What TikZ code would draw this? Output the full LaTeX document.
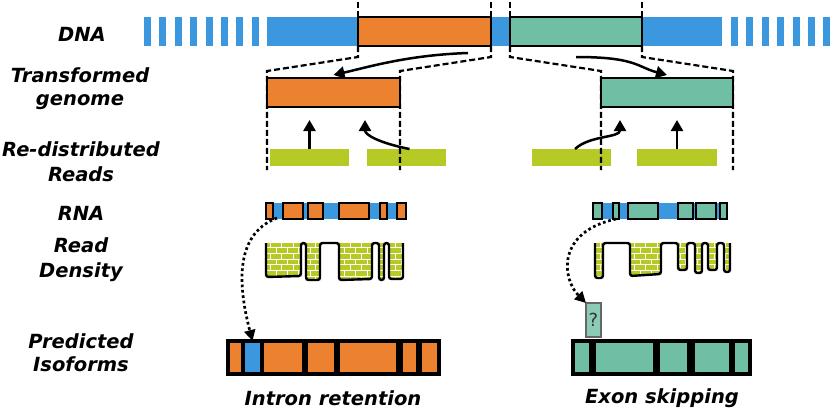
\documentclass[tikz,border=0pt]{standalone}
\usepackage{fontspec}
\setmainfont{DejaVu Sans}
\usetikzlibrary{arrows.meta,patterns}
\definecolor{dnablue}{RGB}{60,152,222}
\definecolor{exorange}{RGB}{236,130,48}
\definecolor{exteal}{RGB}{112,191,164}
\definecolor{qteal}{RGB}{140,204,182}
\definecolor{readlime}{RGB}{182,201,36}

\begin{document}
\begin{tikzpicture}[
  x=1pt, y=-1pt,
  every node/.style = {inner sep=0pt, outer sep=0pt, anchor=north west},
  lbl/.style = {anchor=center, align=center, font=\fontsize{19.5}{24}\selectfont\bfseries\itshape},
  dnaseg/.style = {fill=dnablue, minimum height=29pt},
  bigbox/.style = {draw, line width=2.3pt, minimum height=29pt},
  readbar/.style = {fill=readlime, minimum height=17pt},
  rnaseg/.style = {fill=dnablue, minimum height=16pt},
  rnaexon/.style = {draw, line width=1.4pt, minimum height=16pt},
  isoexon/.style = {draw, line width=3.2pt, minimum height=33pt},
  guide/.style = {line width=2.2pt, dash pattern=on 6pt off 3pt},
  arr/.style = {line width=2.5pt, -{Triangle[length=11pt,width=12pt]}},
  dotarr/.style = {line width=2.7pt, dash pattern=on 2.7pt off 2.7pt, -{Triangle[length=11pt,width=11pt]}},
  dens/.style = {preaction={fill=readlime}, pattern=bricks, pattern color=white},
  densline/.style = {line width=2.4pt, rounded corners=2.5pt}
]
  \fill[white] (0,0) rectangle (840,410);
  \useasboundingbox (0,0) rectangle (840,410);

  \node[lbl] (lbDNA) at (82,34) {DNA};
  \node[lbl] (lbGen) at (80,89) {Transformed\\[-1pt]genome};
  \node[lbl] (lbReads) at (81,162) {Re-distributed\\[1pt]Reads};
  \node[lbl] (lbRNA) at (81,213) {RNA};
  \node[lbl] (lbDens) at (81,260) {Read\\[1pt]Density};
  \node[lbl] (lbIso) at (81,353) {Predicted\\[-1pt]Isoforms};
  \node[lbl] (lbIR) at (333,398) {Intron retention};
  \node[lbl] (lbES) at (662,398) {Exon skipping};

  \foreach \i in {0,...,7}
    \fill[dnablue] ({144+15.4*\i},17) rectangle ++(7,29);
  \foreach \i in {0,...,6}
    \fill[dnablue] ({731+15.4*\i},17) rectangle ++(7,29);
  \node[dnaseg, minimum width=455] (dnaB) at (267,17) {};
  \node[bigbox, fill=exorange, minimum width=133] (dnaO) at (358,17) {};
  \node[bigbox, fill=exteal, minimum width=132] (dnaT) at (510,17) {};

  \node[readbar, minimum width=79] (rdL1) at (270,149) {};
  \node[readbar, minimum width=79] (rdL2) at (367,149) {};
  \node[readbar, minimum width=79] (rdR1) at (532,149) {};
  \node[readbar, minimum width=80] (rdR2) at (637,149) {};

  \draw[guide] (dnaO.north west) -- ++(0,-17);
  \draw[guide] (dnaO.north east) -- ++(0,-17);
  \draw[guide] (dnaT.north west) -- ++(0,-17);
  \draw[guide] (dnaT.north east) -- ++(0,-17);
  \draw[guide] (dnaO.south west) -- ++(0,11) -- (267,71) -- ++(0,99);
  \draw[guide] (dnaO.south east) -- ++(0,11) -- (400,71) -- ++(0,99);
  \draw[guide] (dnaT.south west) -- ++(0,11) -- (601,71) -- ++(0,99);
  \draw[guide] (dnaT.south east) -- ++(0,11) -- (733,71) -- ++(0,99);

  \node[bigbox, fill=exorange, minimum width=133] (trO) at (267,78) {};
  \node[bigbox, fill=exteal, minimum width=132] (trT) at (601,78) {};

  \draw[arr] ([xshift=-23pt,yshift=-7pt]dnaO.south east) .. controls +(-60,2) and +(35,-8) .. ([yshift=3pt]trO.north);
  \draw[arr] ([yshift=-11pt]dnaT.south) .. controls +(60,0) and +(-30,-8) .. ([yshift=3pt]trT.north);

  \draw[arr] (rdL1.north) -- ([yshift=-13pt]rdL1.north |- trO.south);
  \draw[arr] ([xshift=3pt]rdL2.north) .. controls +(-30,-6) and +(0,15) .. ([xshift=-35pt,yshift=-13pt]trO.south east);
  \draw[arr] ([xshift=3.5pt]rdR1.north) .. controls +(15,-14) and +(0,18) .. ([xshift=19pt,yshift=-13pt]trT.south west);
  \draw[arr] (rdR2.north) -- ([yshift=-13pt]rdR2.north |- trT.south);

  \node[rnaseg, minimum width=140] (rnaL) at (266,203) {};
  \foreach \a/\w [count=\k] in {266/7, 283/20, 308/15, 339/30, 380/7, 397/9}
    \node[rnaexon, fill=exorange, minimum width=\w] (exL\k) at (\a,203) {};
  \node[rnaseg, minimum width=134] (rnaR) at (593,203) {};
  \foreach \a/\w [count=\k] in {593/9, 613/6, 628/30, 678/15, 696/20, 720/7}
    \node[rnaexon, fill=exteal, minimum width=\w] (exR\k) at (\a,203) {};

  \def\densL{(266,243) -- (266,277) -- (301,276) -- (301,243) -- (306,243) -- (306,280) -- (320,280)
    -- (320,243) -- (339,243) -- (339,280) -- (372,279) -- (372,243) -- (379,243) -- (379,280)
    -- (384,280) -- (384,243) -- (389,243) -- (389,279) -- (403,279) -- (403,243)}
  \def\densR{(595,243) -- (595,278) -- (603,278) -- (603,243) -- (630,243) -- (630,276) -- (661,274)
    -- (661,243) -- (678,243) -- (678,270) -- (687,270) -- (687,243) -- (695,243) -- (695,273)
    -- (702,273) -- (702,243) -- (708,243) -- (708,270) -- (717,270) -- (717,243) -- (724,243)
    -- (724,272) -- (730,272) -- (730,243)}
  \fill[dens] \densL -- cycle;
  \draw[densline] \densL;
  \fill[dens] \densR -- cycle;
  \draw[densline] \densR;

  \node[isoexon, fill=exorange, minimum width=15] (pL1) at (228,341) {};
  \node[isoexon, fill=dnablue, minimum width=19] (retL) at (243,341) {};
  \node[isoexon, fill=exorange, minimum width=42] (pL2) at (262,341) {};
  \node[isoexon, fill=exorange, minimum width=30] (pL3) at (306,341) {};
  \node[isoexon, fill=exorange, minimum width=60] (pL4) at (338,341) {};
  \node[isoexon, fill=exorange, minimum width=17] (pL5) at (401,341) {};
  \node[isoexon, fill=exorange, minimum width=19] (pL6) at (420,341) {};

  \node[isoexon, fill=exteal, minimum width=18] (pR1) at (573,341) {};
  \node[isoexon, fill=exteal, minimum width=61] (pR2) at (594,341) {};
  \node[isoexon, fill=exteal, minimum width=31] (pR3) at (658,341) {};
  \node[isoexon, fill=exteal, minimum width=38] (pR4) at (693,341) {};
  \node[isoexon, fill=exteal, minimum width=17] (pR5) at (733,341) {};

  \node[draw=black!60, line width=2.5pt, fill=qteal, minimum width=15, minimum height=34,
        font=\fontsize{18}{20}\selectfont, text=black!80] (qbox) at (586,303) {?};

  \draw[dotarr] (exL1.south east) ++(4,-1) .. controls +(-45,17) and +(-13,-50) .. (retL.north);
  \draw[dotarr] (exR2.south) .. controls +(-60,13) and +(-24,-24) .. (qbox.north west);
\end{tikzpicture}
\end{document}
